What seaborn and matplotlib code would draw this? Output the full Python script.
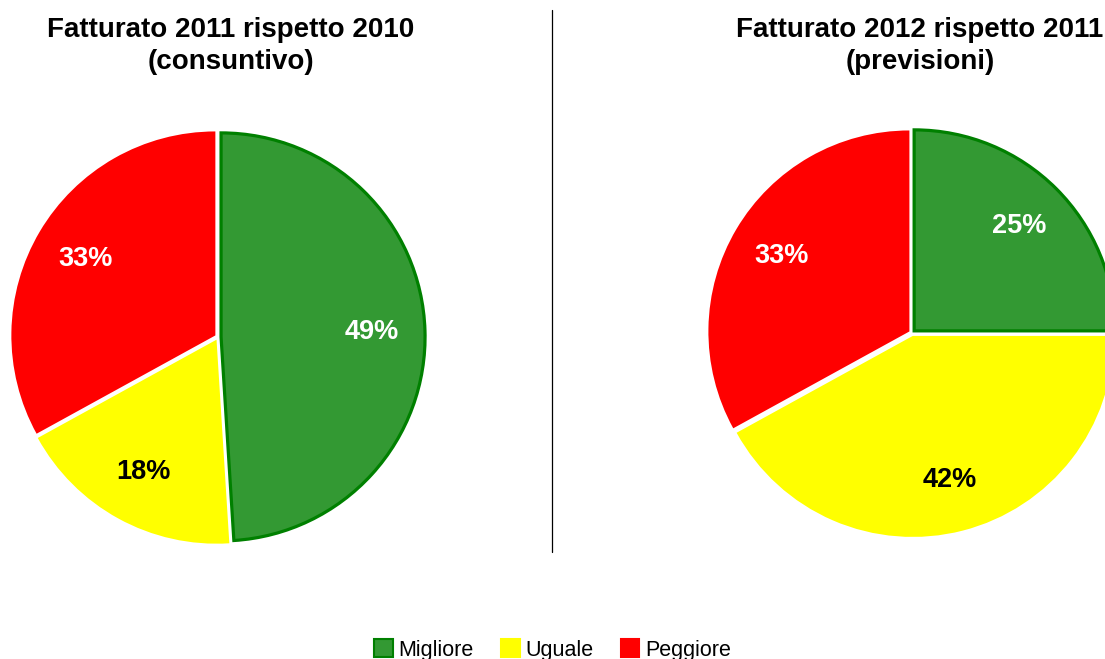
import matplotlib
matplotlib.use("Agg")
import matplotlib.pyplot as plt
from matplotlib.patches import Patch
from matplotlib.lines import Line2D
import seaborn as sns

sns.set_theme(style="white")
plt.rcParams["font.family"] = ["Liberation Sans", "DejaVu Sans"]
plt.rcParams["text.color"] = "black"

categories = ["Migliore", "Uguale", "Peggiore"]
values_2011 = [49, 18, 33]
values_2012 = [25, 42, 33]
titles = ["Fatturato 2011 rispetto 2010\n(consuntivo)",
          "Fatturato 2012 rispetto 2011\n(previsioni)"]

colors = ["#339933", "#ffff00", "#ff0000"]
edge_green = "#008000"
label_colors = ["white", "black", "white"]

W, H = 1105, 659
fig = plt.figure(figsize=(W / 100, H / 100), dpi=100)
fig.patch.set_facecolor("white")

# pie centres / radii in pixels (from top-left)
pies = [
    dict(vals=values_2011, cx=218, cy=337, r=204, title=titles[0], tx=231),
    dict(vals=values_2012, cx=912, cy=333, r=201, title=titles[1], tx=920),
]
S = 240  # half-size of each square axes in px

for p in pies:
    ax = fig.add_axes([(p["cx"] - S) / W, (H - p["cy"] - S) / H, 2 * S / W, 2 * S / H])
    wedges, texts, autotexts = ax.pie(
        p["vals"], colors=colors, startangle=90, counterclock=False,
        explode=[0.015] * 3, autopct="%.0f%%", pctdistance=0.74,
        wedgeprops=dict(linewidth=0),
        textprops=dict(fontsize=19.5, fontweight="bold"),
    )
    wedges[0].set_edgecolor(edge_green)
    wedges[0].set_linewidth(2.3)
    for t, c in zip(autotexts, label_colors):
        t.set_color(c)
    lim = S / p["r"]
    ax.set_xlim(-lim, lim)
    ax.set_ylim(-lim, lim)
    ax.set_aspect("auto")
    ax.axis("off")
    fig.text(p["tx"] / W, (H - 46) / H, p["title"], ha="center", va="center",
             fontsize=20, fontweight="bold", linespacing=1.3, color="black")

# separator line
fig.add_artist(Line2D([552 / W, 552 / W], [(H - 552) / H, (H - 10) / H],
                      color="black", linewidth=0.9, transform=fig.transFigure))

handles = [
    Patch(facecolor=colors[0], edgecolor=edge_green, linewidth=1.5),
    Patch(facecolor=colors[1], edgecolor=colors[1], linewidth=1.5),
    Patch(facecolor=colors[2], edgecolor=colors[2], linewidth=1.5),
]
leg = fig.legend(handles, categories, loc="center", bbox_to_anchor=(0.5, 9 / H),
                 ncol=3, frameon=False, fontsize=15.5, handlelength=0.85,
                 handleheight=0.85, handletextpad=0.25, columnspacing=1.3)
for t in leg.get_texts():
    t.set_color("black")

fig.savefig("out.png", dpi=100)
